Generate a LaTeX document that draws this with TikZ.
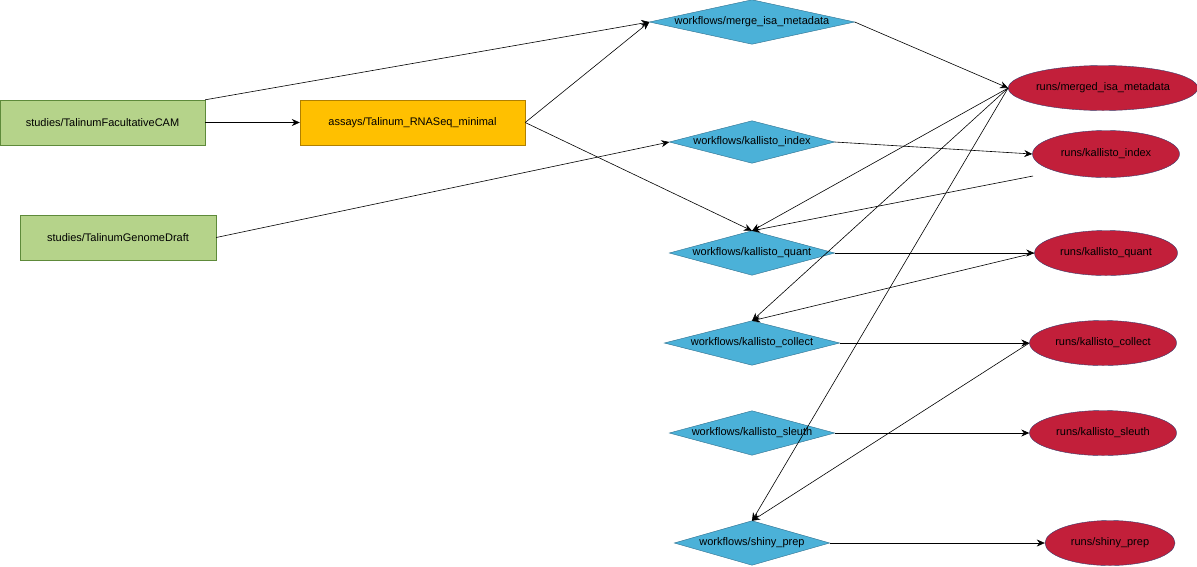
\documentclass[tikz,border=0pt]{standalone}
\usepackage{fontspec}
\setmainfont{Liberation Sans}
\usetikzlibrary{shapes.geometric,arrows.meta}
\definecolor{gr}{HTML}{B5D38A}
\definecolor{grb}{HTML}{5E8A3A}
\definecolor{og}{HTML}{FFC000}
\definecolor{ogb}{HTML}{B08000}
\definecolor{bl}{HTML}{4BB1D8}
\definecolor{blb}{HTML}{2E6F8E}
\definecolor{rd}{HTML}{C21F3A}
\definecolor{rdb}{HTML}{3A3A6A}
\begin{document}
\begin{tikzpicture}[x=1pt,y=-1pt,font=\fontsize{11}{13}\selectfont,
  box/.style={draw=#1,rectangle,minimum height=45pt,inner sep=0pt},
  wf/.style={rectangle,inner sep=0pt},
  run/.style={ellipse,draw=rdb,fill=rd,inner sep=0pt},
  arr/.style={-{Stealth[length=8pt,width=7pt]},black,line width=0.6pt}]
\useasboundingbox (0,0) rectangle (1197,566);
\node[box=grb,fill=gr,minimum width=205pt] (cam) at (102.5,122.5) {studies/TalinumFacultativeCAM};
\node[box=ogb,fill=og,minimum width=225pt] (as) at (412.5,122.5) {assays/Talinum\_RNASeq\_minimal};
\node[box=grb,fill=gr,minimum width=196pt] (gd) at (118,237.5) {studies/TalinumGenomeDraft};
\foreach \n/\x/\y/\w/\h/\t in {
 mi/752/22/205/44/merge\_isa\_metadata,
 ki/752/142/165/42/kallisto\_index,
 kq/752/253/165/44/kallisto\_quant,
 kc/752/343/175/44/kallisto\_collect,
 ks/752/433/165/44/kallisto\_sleuth,
 sp/752/543/155/44/shiny\_prep}{
 \node[wf,minimum width=\w pt,minimum height=\h pt] (\n) at (\x,\y) {};
 \draw[draw=blb,fill=bl] (\n.north)--(\n.east)--(\n.south)--(\n.west)--cycle;
 \node at (\n) {workflows/\t};
}
\node[run,minimum width=185pt,minimum height=45pt] (rm) at (1103,88) {runs/merged\_isa\_metadata};
\node[run,minimum width=147pt,minimum height=47pt] (ri) at (1106,154) {runs/kallisto\_index};
\node[run,minimum width=143pt,minimum height=45pt] (rq) at (1106,253) {runs/kallisto\_quant};
\node[run,minimum width=147pt,minimum height=45pt] (rc) at (1103,343) {runs/kallisto\_collect};
\node[run,minimum width=147pt,minimum height=45pt] (rs) at (1103,433) {runs/kallisto\_sleuth};
\node[run,minimum width=130pt,minimum height=45pt] (rp) at (1110,543) {runs/shiny\_prep};
\coordinate (ril) at (1033,176);
\draw[arr] (cam.north east) -- (mi.west);
\draw[arr] (cam) -- (as);
\draw[arr] (as.east) -- (mi.west);
\draw[arr] (as.east) -- (kq.north);
\draw[arr] (gd.east) -- (ki.west);
\draw[arr] (mi.east) -- (rm.west);
\draw[arr] (ki.east) -- (ri.west);
\draw[arr] (rm.west) -- (kq.north);
\draw[arr] (rm.west) -- (kc.north);
\draw[arr] (rm.west) -- (sp.north);
\draw[arr] (ril) -- (kq.north);
\draw[arr] (kq.east) -- (rq.west);
\draw[arr] (rq.west) -- (kc.north);
\draw[arr] (kc.east) -- (rc.west);
\draw[arr] (rc.west) -- (sp.north);
\draw[arr] (ks.east) -- (rs.west);
\draw[arr] (sp.east) -- (rp.west);
\end{tikzpicture}
\end{document}
